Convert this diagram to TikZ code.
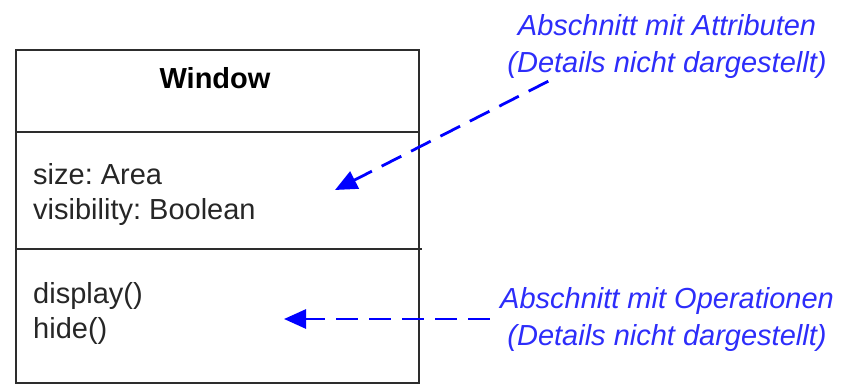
\documentclass[tikz,border=0pt]{standalone}
\usepackage{fontspec}
\setmainfont{Liberation Sans}
\usetikzlibrary{arrows.meta}
\definecolor{noteblue}{RGB}{45,45,250}
\definecolor{frame}{RGB}{45,45,45}
\frenchspacing

\begin{document}
\begin{tikzpicture}[x=1pt,y=-1pt,
  member/.style={font=\fontsize{29}{35}\selectfont, text=black!85, inner sep=0pt, align=left, anchor=base west},
  note/.style={font=\fontsize{29}{37}\selectfont\itshape, text=noteblue, inner sep=2pt, align=center, anchor=base},
  pointer/.style={draw=blue, line width=2.8pt, dash pattern=on 22pt off 11pt, -{Triangle[length=22pt,width=19pt]}}]
\useasboundingbox (0,0) rectangle (846,390);
\node[draw=frame, line width=2.2pt, minimum width=403pt, minimum height=333pt, inner sep=0pt, anchor=north west] (cls) at (15,49) {};
\draw[frame, line width=2.2pt] (cls.west |- 0,132) -- (cls.east |- 0,132);
\draw[frame, line width=2.2pt] (cls.west |- 0,249) -- (422,249);
\node[font=\fontsize{29}{35}\selectfont\bfseries, anchor=base, inner sep=0pt] (title) at (215,89) {Window};
\node[member] (attrs) at (33,219) {size: Area\\visibility: Boolean};
\node[member] (ops) at (33,338) {display()\\hide()};
\node[note] (attrnote) at (667,73) {Abschnitt mit Attributen\\(Details nicht dargestellt)};
\node[note] (opnote) at (667,345) {Abschnitt mit Operationen\\(Details nicht dargestellt)};
\coordinate (attrtip) at (335,190);
\coordinate (optip) at (284,316);
\draw[pointer] ([xshift=43pt]attrnote.south west) -- (attrtip);
\draw[pointer, shorten <=8pt] (opnote.west) -- (opnote.west -| optip);
\end{tikzpicture}
\end{document}
